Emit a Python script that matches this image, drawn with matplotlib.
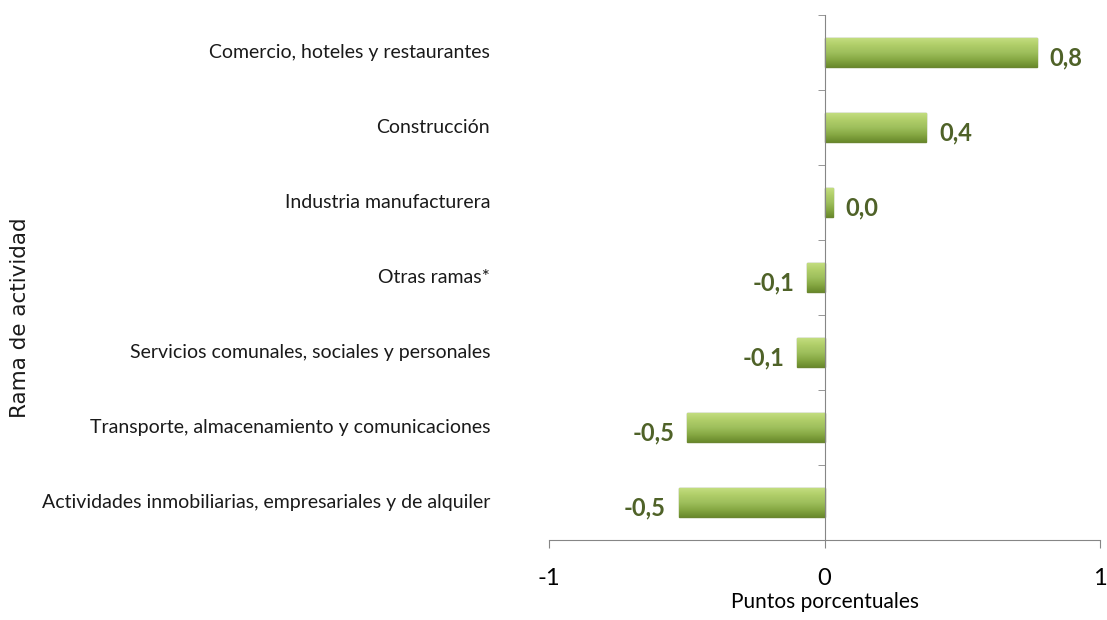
import numpy as np
import matplotlib.pyplot as plt
from matplotlib.colors import LinearSegmentedColormap
import matplotlib.transforms as mtransforms

# Datos
ramas = [
    "Comercio, hoteles y restaurantes",
    "Construcción",
    "Industria manufacturera",
    "Otras ramas*",
    "Servicios comunales, sociales y personales",
    "Transporte, almacenamiento y comunicaciones",
    "Actividades inmobiliarias, empresariales y de alquiler",
]
valores = [0.77, 0.37, 0.03, -0.065, -0.10, -0.50, -0.53]
etiquetas = ["0,8", "0,4", "0,0", "-0,1", "-0,1", "-0,5", "-0,5"]

fuente = ['Lato', 'DejaVu Sans']
verde_texto = '#4F6228'

fig = plt.figure(figsize=(11.07, 6.2), dpi=100)
ax = fig.add_axes([0.496, 0.129, 0.4977, 0.847])

n = len(ramas)
pos = np.arange(n)[::-1]

barras = ax.barh(pos, valores, height=0.38, color='#9BBB59',
                 edgecolor='#6A8530', linewidth=1.0, zorder=2)

# Degradado vertical para imitar el bisel
cmap = LinearSegmentedColormap.from_list(
    'bisel', ['#6A8A2C', '#86A843', '#9EBF5C', '#AFCD68', '#C2DD7E'])
grad = np.linspace(0, 1, 64).reshape(-1, 1)
for b in barras:
    x0, y0 = b.get_x(), b.get_y()
    w, h = b.get_width(), b.get_height()
    im = ax.imshow(grad, cmap=cmap, aspect='auto', origin='lower',
                   extent=[min(x0, x0 + w), max(x0, x0 + w), y0, y0 + h],
                   zorder=3)
    im.set_clip_path(b)

ax.set_xlim(-1, 1)
ax.set_ylim(-0.5, n - 0.5)

# Etiquetas de valores
for p, v, t in zip(pos, valores, etiquetas):
    if v >= 0:
        ax.annotate(t, (v, p), xytext=(9, -4), textcoords='offset points',
                    ha='left', va='center', fontsize=17, fontweight='bold',
                    color=verde_texto, family=fuente)
    else:
        ax.annotate(t, (v, p), xytext=(-9, -4), textcoords='offset points',
                    ha='right', va='center', fontsize=17, fontweight='bold',
                    color=verde_texto, family=fuente)

# Nombres de las ramas
trans = mtransforms.blended_transform_factory(ax.transAxes, ax.transData)
for p, r in zip(pos, ramas):
    ax.text(-0.107, p, r, transform=trans, ha='right', va='center',
            fontsize=14, family=fuente, color='#1a1a1a')

# Ejes
for s in ['top', 'right']:
    ax.spines[s].set_visible(False)
ax.spines['left'].set_position(('data', 0))
ax.spines['left'].set_color('#868686')
ax.spines['bottom'].set_color('#868686')
ax.spines['left'].set_zorder(4)

ax.set_yticks([])
ax.set_yticks(np.arange(n + 1) - 0.5, minor=True)
ax.tick_params(axis='y', which='minor', length=5, color='#868686', direction='out')
ax.set_xticks([-1, 0, 1])
ax.set_xticklabels(['-1', '0', '1'], family=fuente, fontsize=17)
ax.tick_params(axis='x', length=6, color='#868686', pad=14)
ax.set_xlabel('Puntos porcentuales', family=fuente, fontsize=15, labelpad=2)

fig.text(0.018, 0.487, 'Rama de actividad', rotation=90, ha='center', va='center',
         fontsize=15.5, family='DejaVu Sans', color='#1a1a1a')

fig.savefig('out.png', dpi=100)
